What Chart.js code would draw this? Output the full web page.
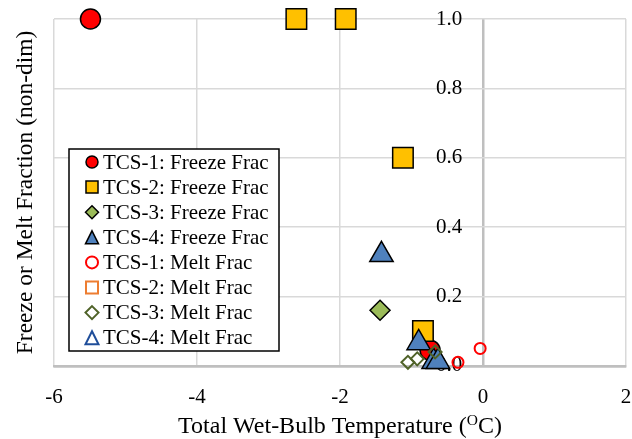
<!DOCTYPE html>
<html>
<head>
<meta charset="utf-8">
<script src="https://cdn.jsdelivr.net/npm/chart.js@4.4.1/dist/chart.umd.min.js"></script>
<style>
  html, body { margin: 0; padding: 0; background: #fff; }
</style>
</head>
<body>
<canvas id="chart" width="632" height="439"></canvas>
<script>
// values
const seriesLabels = [
  "TCS-1: Freeze Frac", "TCS-2: Freeze Frac", "TCS-3: Freeze Frac", "TCS-4: Freeze Frac",
  "TCS-1: Melt Frac", "TCS-2: Melt Frac", "TCS-3: Melt Frac", "TCS-4: Melt Frac"
]

const tcs1FreezeX = [-5.49, -0.74]
const tcs1FreezeY = [1.0, 0.045]
const tcs2FreezeX = [-2.61, -1.92, -1.12, -0.84]
const tcs2FreezeY = [1.0, 1.0, 0.60, 0.10]
const tcs3FreezeX = [-1.44]
const tcs3FreezeY = [0.16]
const tcs4FreezeX = [-1.42, -0.90, -0.69, -0.63]
const tcs4FreezeY = [0.32, 0.066, 0.012, 0.012]

const tcs1MeltX = [-0.04, -0.35]
const tcs1MeltY = [0.05, 0.01]
const tcs2MeltX = []
const tcs2MeltY = []
const tcs3MeltX = [-1.05, -0.92, -0.67]
const tcs3MeltY = [0.01, 0.02, 0.04]
const tcs4MeltX = []
const tcs4MeltY = []

const xTicks = [-6, -4, -2, 0, 2]
const yTicks = [0, 0.2, 0.4, 0.6, 0.8, 1.0]

const seriesX = [tcs1FreezeX, tcs2FreezeX, tcs3FreezeX, tcs4FreezeX, tcs1MeltX, tcs2MeltX, tcs3MeltX, tcs4MeltX]
const seriesY = [tcs1FreezeY, tcs2FreezeY, tcs3FreezeY, tcs4FreezeY, tcs1MeltY, tcs2MeltY, tcs3MeltY, tcs4MeltY]

const FONT = "'Liberation Serif', 'Times New Roman', serif"
const NONE = "rgba(0,0,0,0)"

// marker look per series (filled freeze, hollow melt)
const styles = [
  { shape: "circle", fill: "#ff0000", stroke: "#000000", width: 1.5, radius: 10, legendSize: 6 },
  { shape: "rect", fill: "#ffc000", stroke: "#000000", width: 1.5, radius: 14.5, legendSize: 6 },
  { shape: "rectRot", fill: "#9bbb59", stroke: "#000000", width: 1.5, radius: 10, legendSize: 6.5 },
  { shape: "triangle", fill: "#4f81bd", stroke: "#000000", width: 1.5, radius: 13.5, legendSize: 6.5 },
  { shape: "circle", fill: NONE, stroke: "#ff0000", width: 2, radius: 5.5, legendSize: 6 },
  { shape: "rect", fill: NONE, stroke: "#ed7d31", width: 2, radius: 8, legendSize: 6 },
  { shape: "rectRot", fill: NONE, stroke: "#4f6228", width: 2, radius: 6.5, legendSize: 6.5 },
  { shape: "triangle", fill: NONE, stroke: "#1f4e9a", width: 2, radius: 8, legendSize: 6.5 }
]

const datasets = seriesLabels.map((label, i) => ({
  label: label,
  data: seriesX[i].map((x, j) => ({ x: x, y: seriesY[i][j] })),
  showLine: false,
  clip: false,
  // later series drawn on top, like the original
  order: seriesLabels.length - i,
  pointStyle: styles[i].shape,
  pointRadius: styles[i].radius,
  pointHoverRadius: styles[i].radius,
  pointBackgroundColor: styles[i].fill,
  pointBorderColor: styles[i].stroke,
  pointBorderWidth: styles[i].width,
  pointHoverBorderWidth: styles[i].width
}))

function drawMarker(ctx, shape, x, y, r) {
  ctx.beginPath()
  if (shape === "circle") {
    ctx.arc(x, y, r, 0, Math.PI * 2)
  } else if (shape === "rect") {
    ctx.rect(x - r, y - r, r * 2, r * 2)
  } else if (shape === "rectRot") {
    ctx.moveTo(x, y - r)
    ctx.lineTo(x + r, y)
    ctx.lineTo(x, y + r)
    ctx.lineTo(x - r, y)
  } else {
    ctx.moveTo(x, y - r)
    ctx.lineTo(x + r, y + r)
    ctx.lineTo(x - r, y + r)
  }
  ctx.closePath()
  ctx.fill()
  ctx.stroke()
}

// no extra room for overhanging tick labels, the plot box is set by layout padding
function noLabelPadding(scale) {
  scale.paddingTop = 0
  scale.paddingBottom = 0
  scale.paddingLeft = 0
  scale.paddingRight = 0
}

const gridColor = (c) => (c.tick && c.tick.value === 0 ? "#bfbfbf" : "#d9d9d9")
const gridWidth = (c) => (c.tick && c.tick.value === 0 ? 2.5 : 1.5)

const extrasPlugin = {
  id: "extras",
  afterDraw(chart) {
    const ctx = chart.ctx
    const area = chart.chartArea
    ctx.save()

    // y axis title
    ctx.fillStyle = "#000"
    ctx.font = "23.5px " + FONT
    ctx.textAlign = "center"
    ctx.textBaseline = "middle"
    ctx.save()
    ctx.translate(26, (area.top + area.bottom) / 2)
    ctx.rotate(-Math.PI / 2)
    ctx.fillText("Freeze or Melt Fraction (non-dim)", 0, 0)
    ctx.restore()

    // x axis title with superscript O
    const part1 = "Total Wet-Bulb Temperature ("
    const sup = "O"
    const part2 = "C)"
    ctx.textBaseline = "alphabetic"
    ctx.textAlign = "left"
    ctx.font = "24px " + FONT
    const w1 = ctx.measureText(part1).width
    const w3 = ctx.measureText(part2).width
    ctx.font = "15.5px " + FONT
    const w2 = ctx.measureText(sup).width
    let tx = (area.left + area.right) / 2 - (w1 + w2 + w3) / 2
    const ty = 433
    ctx.font = "24px " + FONT
    ctx.fillText(part1, tx, ty)
    tx += w1
    ctx.font = "15.5px " + FONT
    ctx.fillText(sup, tx, ty - 8.5)
    tx += w2
    ctx.font = "24px " + FONT
    ctx.fillText(part2, tx, ty)

    // legend box
    const box = { left: 69, top: 149, width: 210, height: 202 }
    ctx.fillStyle = "#fff"
    ctx.fillRect(box.left, box.top, box.width, box.height)
    ctx.strokeStyle = "#000"
    ctx.lineWidth = 1.5
    ctx.strokeRect(box.left, box.top, box.width, box.height)

    ctx.font = "21px " + FONT
    ctx.textBaseline = "middle"
    seriesLabels.forEach((label, i) => {
      const rowY = box.top + 13 + i * 25.1
      const s = styles[i]
      ctx.fillStyle = s.fill
      ctx.strokeStyle = s.stroke
      ctx.lineWidth = s.width
      drawMarker(ctx, s.shape, 92, rowY, s.legendSize)
      ctx.fillStyle = "#000"
      ctx.fillText(label, 103, rowY + 1)
    })
    ctx.restore()
  }
}

new Chart(document.getElementById("chart"), {
  type: "scatter",
  data: { datasets: datasets },
  options: {
    responsive: false,
    animation: false,
    layout: { autoPadding: false, padding: { left: 54, right: 6, top: 19, bottom: 10 } },
    plugins: {
      legend: { display: false },
      tooltip: { enabled: false }
    },
    scales: {
      x: {
        type: "linear",
        position: "bottom",
        min: xTicks[0],
        max: xTicks[xTicks.length - 1],
        afterBuildTicks: (scale) => { scale.ticks = xTicks.map(v => ({ value: v })) },
        afterFit: noLabelPadding,
        ticks: {
          color: "#000",
          font: { family: FONT, size: 21 },
          padding: 19
        },
        grid: { color: gridColor, lineWidth: gridWidth, drawTicks: false },
        border: { color: "#bfbfbf", width: 2.5 }
      },
      y: {
        type: "linear",
        // the labels sit about 21px left of the zero line, the zero line itself is the x grid line at 0
        position: { x: -0.29 },
        min: yTicks[0],
        max: yTicks[yTicks.length - 1],
        afterBuildTicks: (scale) => { scale.ticks = yTicks.map(v => ({ value: v })) },
        afterFit: noLabelPadding,
        ticks: {
          color: "#000",
          font: { family: FONT, size: 21 },
          callback: (v) => Number(v).toFixed(1)
        },
        grid: { color: gridColor, lineWidth: gridWidth, drawTicks: false },
        border: { display: false }
      }
    }
  },
  plugins: [extrasPlugin]
})
</script>
</body>
</html>
